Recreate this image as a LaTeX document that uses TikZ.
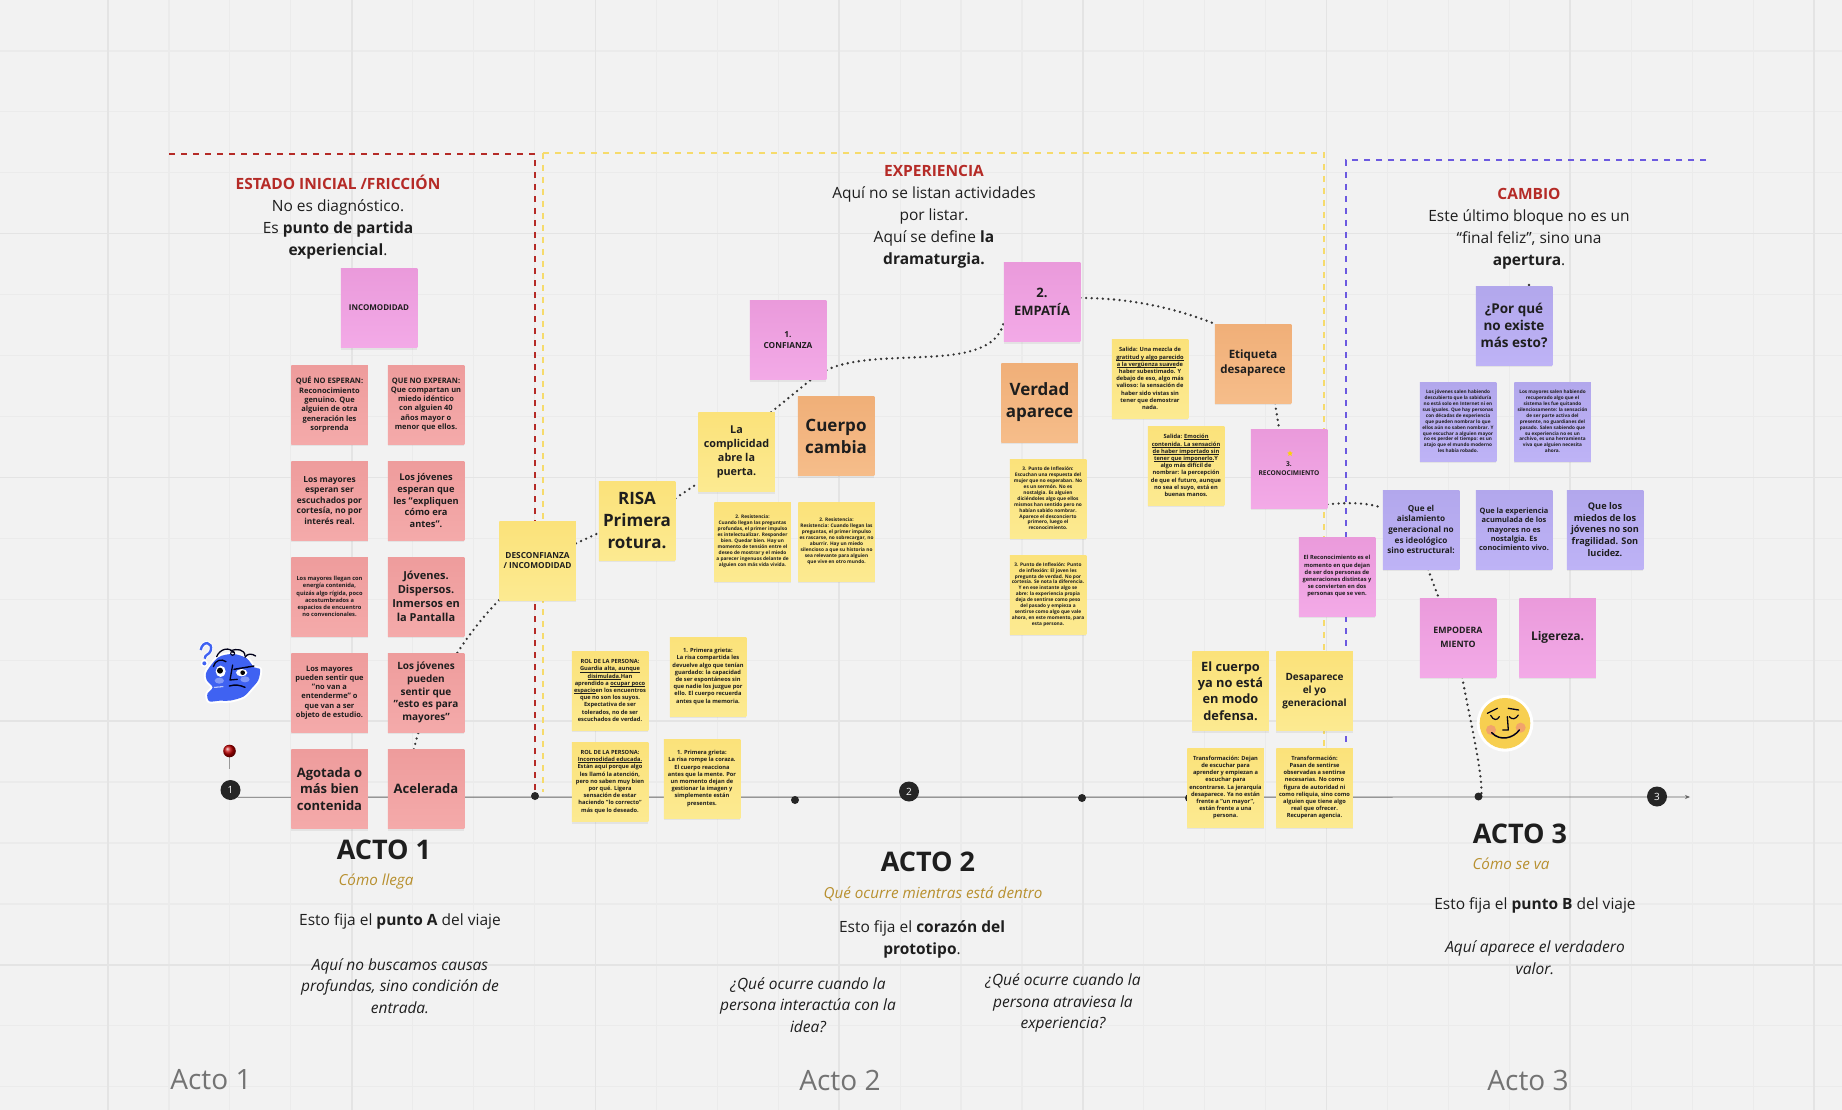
\documentclass[tikz,border=0pt]{standalone}
\usepackage{fontspec}
\setmainfont{Open Sans}
\usetikzlibrary{arrows.meta,backgrounds,shadows,shapes.geometric}
\definecolor{lienzo}{HTML}{F2F2F2}
\definecolor{rejilla}{HTML}{EBEBEB}
\definecolor{rejillab}{HTML}{E4E4E4}
\definecolor{tinta}{HTML}{1E1E1E}
\definecolor{rojo}{HTML}{B52B27}
\definecolor{oro}{HTML}{B8902F}
\definecolor{azul}{HTML}{3F62F2}
\definecolor{gualda}{HTML}{F6DB6C}
\definecolor{malva}{HTML}{6C5AE0}
\definecolor{cara}{HTML}{F7CF50}
\definecolor{mejilla}{HTML}{F2A36B}
\newcommand{\rayado}[1]{\setbox0=\hbox{#1}\rlap{\rule[-.9pt]{\wd0}{.25pt}}\box0}
\begin{document}
\begin{tikzpicture}[
  x=1pt, y=-1pt,
  sticky/.style={minimum width=76.5pt, minimum height=79pt, inner sep=0pt, align=center, text=tinta,
    drop shadow={opacity=.13, shadow xshift=0pt, shadow yshift=-2pt}},
  coral/.style={sticky, top color={rgb,255:red,238;green,156;blue,156}, bottom color={rgb,255:red,244;green,170;blue,170}},
  rosa/.style={sticky, top color={rgb,255:red,234;green,154;blue,219}, bottom color={rgb,255:red,243;green,170;blue,231}},
  ambar/.style={sticky, top color={rgb,255:red,251;green,226;blue,122}, bottom color={rgb,255:red,252;green,234;blue,145}},
  naranja/.style={sticky, top color={rgb,255:red,240;green,175;blue,120}, bottom color={rgb,255:red,246;green,189;blue,138}},
  lila/.style={sticky, top color={rgb,255:red,178;green,167;blue,236}, bottom color={rgb,255:red,190;green,179;blue,246}},
  fnt/.style 2 args={font=\fontsize{#1}{#2}\selectfont\bfseries},
  nota/.style={align=center, inner sep=0pt, text=tinta, font=\fontsize{15.5}{22}\selectfont},
  cursiva/.style={nota, font=\fontsize{15.5}{21.7}\selectfont\itshape},
  acto/.style={inner sep=0pt, text=tinta, font=\fontsize{27}{32}\selectfont\bfseries},
  sub/.style={inner sep=0pt, text=oro, font=\fontsize{15.2}{20}\selectfont\itshape},
  pie/.style={inner sep=0pt, text=black!55, font=\fontsize{28}{32}\selectfont},
  hito/.style={circle, fill=black!85, minimum size=20pt, inner sep=0pt, text=white, font=\fontsize{10}{10}\selectfont},
  punto/.style={circle, fill=black!85, minimum size=8pt, inner sep=0pt},
  lazo/.style={line width=2.6pt, black!80, dash pattern=on 0pt off 5.6pt, line cap=round},
  marco/.style={line width=1.2pt, dash pattern=on 6pt off 6pt}
]
  % Fondo y rejilla
  \useasboundingbox (0,0) rectangle (1842,1110);
  \begin{scope}[on background layer]
    \fill[lienzo] (0,0) rectangle (1842,1110);
    \foreach \i in {0,...,30} {
      \draw[rejilla, line width=1.2pt] (108+\i*60.93,0) -- (108+\i*60.93,1110);
    }
    \foreach \i in {0,...,18} {
      \draw[rejilla, line width=1.2pt] (0,-10+\i*60.93) -- (1842,-10+\i*60.93);
    }
    \foreach \i in {0,...,7} {
      \draw[rejillab, line width=1.6pt] (108+\i*243.7,0) -- (108+\i*243.7,1110);
    }
    \foreach \i in {0,...,4} {
      \draw[rejillab, line width=1.6pt] (0,-10+\i*243.7) -- (1842,-10+\i*243.7);
    }

    % Marcos de cada bloque
    \draw[marco, rojo] (169,154) -- (535,154) -- (535,796);
    \draw[marco, gualda] (543,153) -- (1324,153) -- (1324,825);
    \draw[marco, gualda] (543,153) -- (543,792);
    \draw[marco, malva] (1706,160) -- (1346,160) -- (1346,825);
  \end{scope}

  % Textos de los bloques
  \node[nota] (estado) at (338,217) {{\color{rojo}\bfseries ESTADO INICIAL /FRICCIÓN}\\No es diagnóstico.\\Es \textbf{punto de partida}\\\textbf{experiencial}.};
  \node[nota] (experiencia) at (934,216.5) {{\color{rojo}\bfseries EXPERIENCIA}\\Aquí no se listan actividades\\por listar.\\Aquí se define \textbf{la}\\\textbf{dramaturgia.}};
  \node[nota] (cambio) at (1529,229) {{\color{rojo}\bfseries CAMBIO}\\Este último bloque no es un\\“final feliz”, sino una\\\textbf{apertura}.};

  % Hitos de la linea
  \node[hito] (uno) at (230.5,790) {1};
  \node[hito] (dos) at (909,791.5) {2};
  \node[hito] (tres) at (1657,796.5) {3};
  \node[punto] (pa) at (535,796) {};
  \node[punto] (pb) at (795,800) {};
  \node[punto] (pc) at (1082,798) {};
  \node[punto] (pd) at (1189,798) {};
  \node[punto] (pe) at (1478.5,796.5) {};
  \coordinate (fin) at (1690,797);

  % Acto 1
  \node[rosa, fnt={8}{10}] (incomodidad) at (379,308) {INCOMODIDAD};
  \node[coral, fnt={7.5}{9.3}] (queno) at (329.5,404.5) {QUÉ NO ESPERAN:\\Reconocimiento\\genuino. Que\\alguien de otra\\generación les\\sorprenda};
  \node[coral, fnt={7.5}{9.3}] (quenob) at (426,404.5) {QUE NO EXPERAN:\\Que compartan un\\miedo idéntico\\con alguien 40\\años mayor o\\menor que ellos.};
  \node[coral, fnt={8.4}{10.5}] (mayores) at (329.5,500.5) {Los mayores\\esperan ser\\escuchados por\\cortesía, no por\\interés real.};
  \node[coral, fnt={9.3}{11.8}] (jovenes) at (426,500.5) {Los jóvenes\\esperan que\\les "expliquen\\cómo era\\antes".};
  \node[coral, fnt={5.7}{7.2}] (llegan) at (329.5,596.5) {Los mayores llegan con\\energía contenida,\\quizás algo rígida, poco\\acostumbrados a\\espacios de encuentro\\no convencionales.};
  \node[coral, fnt={11}{14}] (dispersos) at (426,596.5) {Jóvenes.\\Dispersos.\\Inmersos en\\la Pantalla};
  \node[coral, fnt={7.5}{9.3}] (sentir) at (329.5,692.5) {Los mayores\\pueden sentir que\\"no van a\\entenderme" o\\que van a ser\\objeto de estudio.};
  \node[coral, fnt={10}{12.7}] (sentirb) at (426,692.5) {Los jóvenes\\pueden\\sentir que\\"esto es para\\mayores"};
  \node[coral, fnt={13}{16.4}] (agotada) at (329.5,789) {Agotada o\\más bien\\contenida};
  \node[coral, fnt={13}{16.4}] (acelerada) at (426,789) {Acelerada};
  \node[acto] (actoa) at (384,850) {ACTO 1};
  \node[sub] (subactoa) at (376,881) {Cómo llega};
  \node[nota] (fijaa) at (400,921) {Esto fija el \textbf{punto A} del viaje};
  \node[cursiva] (causas) at (400,986) {Aquí no buscamos causas\\profundas, sino condición de\\entrada.};

  % Acto 2
  \node[ambar, fnt={8.3}{10.7}] (desconfianza) at (537.5,560.5) {DESCONFIANZA\\/ INCOMODIDAD};
  \node[ambar, fnt={17}{22}] (risa) at (637,520.5) {RISA\\Primera\\rotura.};
  \node[ambar, fnt={10.8}{14}] (complicidad) at (736.5,452) {La\\complicidad\\abre la\\puerta.};
  \node[naranja, fnt={17}{22}] (cuerpo) at (836,436) {Cuerpo\\cambia};
  \node[rosa, fnt={8.3}{11}] (confianza) at (788,340) {1.\\CONFIANZA};
  \node[rosa, fnt={13}{18}] (empatia) at (1042,302) {2.\\EMPATÍA};
  \node[naranja, fnt={17}{22}] (verdad) at (1039.5,402.5) {Verdad\\aparece};
  \node[naranja, fnt={11.5}{15}] (etiqueta) at (1253,363.5) {Etiqueta\\desaparece};
  \node[ambar, fnt={4.8}{6}] (resistencia) at (752.5,541.5) {2. Resistencia:\\Cuando llegan las preguntas\\profundas, el primer impulso\\es intelectualizar. Responder\\bien. Quedar bien. Hay un\\momento de tensión entre el\\deseo de mostrar y el miedo\\a parecer ingenuos delante de\\alguien con más vida vivida.};
  \node[ambar, fnt={4.8}{6}] (resistenciab) at (836.5,541.5) {2. Resistencia:\\Resistencia: Cuando llegan las\\preguntas, el primer impulso\\es rascarse, no sobrecargar, no\\aburrir. Hay un miedo\\silencioso a que su historia no\\sea relevante para alguien\\que vive en otro mundo.};
  \node[ambar, fnt={5.7}{7.2}] (rola) at (610,690.5) {ROL DE LA PERSONA:\\\rayado{Guardia alta, aunque}\\\rayado{disimulada.} Han\\aprendido a \rayado{ocupar poco}\\\rayado{espacio} en los encuentros\\que no son los suyos.\\Expectativa de ser\\tolerados, no de ser\\escuchados de verdad.};
  \node[ambar, fnt={5.7}{7.2}] (rolb) at (610,782) {ROL DE LA PERSONA:\\\rayado{Incomodidad educada.}\\Están aquí porque algo\\les llamó la atención,\\pero no saben muy bien\\por qué. Ligera\\sensación de estar\\haciendo "lo correcto"\\más que lo deseado.};
  \node[ambar, fnt={5.7}{7.2}] (grieta) at (708,676.5) {1. Primera grieta:\\La risa compartida les\\devuelve algo que tenían\\guardado: la capacidad\\de ser espontáneos sin\\que nadie los juzgue por\\ello. El cuerpo recuerda\\antes que la memoria.};
  \node[ambar, fnt={5.7}{7.2}] (grietab) at (702,778.5) {1. Primera grieta:\\La risa rompe la coraza.\\El cuerpo reacciona\\antes que la mente. Por\\un momento dejan de\\gestionar la imagen y\\simplemente están\\presentes.};
  \node[ambar, fnt={5.7}{7.2}] (salida) at (1150,378.5) {Salida: Una mezcla de\\\rayado{gratitud y algo parecido}\\\rayado{a la vergüenza suave} de\\haber subestimado. Y\\debajo de eso, algo más\\valioso: la sensación de\\haber sido vistas sin\\tener que demostrar\\nada.};
  \node[ambar, fnt={5.7}{7.2}] (salidab) at (1186,465.5) {Salida: \rayado{Emoción}\\\rayado{contenida. La sensación}\\\rayado{de haber importado sin}\\\rayado{tener que imponerlo.} Y\\algo más difícil de\\nombrar: la percepción\\de que el futuro, aunque\\no sea el suyo, está en\\buenas manos.};
  \node[ambar, fnt={4.8}{5.9}] (inflexion) at (1048,498.5) {3. Punto de Inflexión:\\Escuchan una respuesta del\\mujer que no esperaban. No\\es un sermón. No es\\nostalgia. Es alguien\\diciéndoles algo que ellos\\mismos han sentido pero no\\habían sabido nombrar.\\Aparece el desconcierto\\primero, luego el\\reconocimiento.};
  \node[ambar, fnt={4.8}{5.9}] (inflexionb) at (1048,594.5) {3. Punto de Inflexión: Punto\\de inflexión: El joven les\\pregunta de verdad. No por\\cortesía. Se nota la diferencia.\\Y en ese instante algo se\\abre: la experiencia propia\\deja de sentirse como peso\\del pasado y empieza a\\sentirse como algo que vale\\ahora, en este momento, para\\esta persona.};
  \node[rosa, fnt={6.6}{9}] (reconocimiento) at (1289,468.5) {3.\\RECONOCIMIENTO};
  \node[star, star points=5, star point ratio=2.2, fill=yellow!70!orange, minimum size=6pt, inner sep=0pt] (estrella) at (1290,453.5) {};
  \node[rosa, fnt={5.7}{7.2}] (elreco) at (1337,576.5) {El Reconocimiento es el\\momento en que dejan\\de ser dos personas de\\generaciones distintas y\\se convierten en dos\\personas que se ven.};
  \node[ambar, fnt={12.8}{16.3}] (defensa) at (1230.5,691) {El cuerpo\\ya no está\\en modo\\defensa.};
  \node[ambar, fnt={10}{12.7}] (yogen) at (1314.5,691) {Desaparece\\el yo\\generacional};
  \node[ambar, fnt={5.7}{7.2}] (transf) at (1225.5,787.5) {Transformación: Dejan\\de escuchar para\\aprender y empiezan a\\escuchar para\\encontrarse. La jerarquía\\desaparece. Ya no están\\frente a "un mayor",\\están frente a una\\persona.};
  \node[ambar, fnt={5.7}{7.2}] (transfb) at (1314.5,787.5) {Transformación:\\Pasan de sentirse\\observadas a sentirse\\necesarias. No como\\figura de autoridad ni\\como reliquia, sino como\\alguien que tiene algo\\real que ofrecer.\\Recuperan agencia.};
  \node[acto] (actob) at (928,862) {ACTO 2};
  \node[sub] (subactob) at (933,894) {Qué ocurre mientras está dentro};
  \node[nota] (fijab) at (922,939.5) {Esto fija el \textbf{corazón del}\\\textbf{prototipo}.};
  \node[cursiva] (preguntaa) at (808,1005) {¿Qué ocurre cuando la\\persona interactúa con la\\idea?};
  \node[cursiva] (preguntab) at (1063,1003) {¿Qué ocurre cuando la\\persona atraviesa la\\experiencia?};

  % Acto 3
  \node[lila, fnt={13.5}{17.3}] (porque) at (1514,325.5) {¿Por qué\\no existe\\más esto?};
  \node[lila, fnt={4.7}{5.9}] (salenj) at (1458,421.5) {Los jóvenes salen habiendo\\descubierto que la sabiduría\\no está solo en Internet ni en\\sus iguales. Que hay personas\\con décadas de experiencia\\que pueden nombrar lo que\\ellos aún no saben nombrar. Y\\que escuchar a alguien mayor\\no es perder el tiempo: es un\\atajo que el mundo moderno\\les había robado.};
  \node[lila, fnt={4.7}{5.9}] (salenm) at (1552.5,421.5) {Los mayores salen habiendo\\recuperado algo que el\\sistema les fue quitando\\silenciosamente: la sensación\\de ser parte activa del\\presente, no guardianes del\\pasado. Salen sabiendo que\\su experiencia no es un\\archivo, es una herramienta\\viva que alguien necesita\\ahora.};
  \node[lila, fnt={8.2}{10.6}] (aislamiento) at (1421,529.5) {Que el\\aislamiento\\generacional no\\es ideológico\\sino estructural:};
  \node[lila, fnt={7.4}{9.3}] (acumulada) at (1514,529.5) {Que la experiencia\\acumulada de los\\mayores no es\\nostalgia. Es\\conocimiento vivo.};
  \node[lila, fnt={9.2}{11.8}] (miedos) at (1605,529.5) {Que los\\miedos de los\\jóvenes no son\\fragilidad. Son\\lucidez.};
  \node[rosa, fnt={8.8}{14}] (empodera) at (1458,637.5) {EMPODERA\\MIENTO};
  \node[rosa, fnt={12}{15}] (ligereza) at (1557.5,637.5) {Ligereza.};
  \node[acto] (actoc) at (1520,834) {ACTO 3};
  \node[sub] (subactoc) at (1511,864) {Cómo se va};
  \node[nota] (fijac) at (1535,905) {Esto fija el \textbf{punto B} del viaje};
  \node[cursiva] (valor) at (1535,958) {Aquí aparece el verdadero\\valor.};

  % Titulos de abajo
  \node[pie] (piea) at (211,1080) {Acto 1};
  \node[pie] (pieb) at (840,1080) {Acto 2};
  \node[pie] (piec) at (1528,1080) {Acto 3};

  % Linea y lazos por debajo de las notas
  \begin{scope}[on background layer]
    \draw[black!60, line width=.9pt, -{Stealth[length=5pt,width=4pt]}] (uno.south east) -- (fin);
    \draw[lazo] (acelerada.107) .. controls (425,700) and (460,640) .. (desconfianza.south west);
    \draw[lazo] (desconfianza.24) -- (risa.198);
    \draw[lazo] (risa.30) -- (complicidad.219);
    \draw[lazo] (complicidad.49) -- (confianza.300);
    \draw[lazo] (confianza.-38) .. controls (880,345) and (990,375) .. (empatia.209);
    \draw[lazo] (empatia.6) .. controls (1130,298) and (1175,308) .. (etiqueta.north west);
    \draw[lazo] (etiqueta.299) -- (reconocimiento.104);
    \draw[lazo] (reconocimiento.-43) .. controls (1350,502) and (1370,503) .. (aislamiento.151);
    \draw[lazo] (aislamiento.280) -- (empodera.116);
    \draw[lazo] (empodera.276) .. controls (1470,720) and (1482,770) .. (pe.north east);
    \fill[black!80] (1529,285) circle (1.3);
  \end{scope}

  % Chincheta
  \draw[black!40, line width=1.6pt] (229.5,755) -- (229.5,769);
  \shade[ball color=red!75!black] (229.5,751) circle (6.3);

  % Cara azul
  \begin{scope}[shift={(190,630)}, x=.3333pt, y=-.3333pt]
    \draw[white, line width=4pt, line join=round] (32,60) .. controls (38,30) and (70,35) .. (62,62) .. controls (58,75) and (45,72) .. (44,86);
    \fill[white] (43,100) circle (11);
    \draw[azul, line width=2.4pt] (32,60) .. controls (38,30) and (70,35) .. (62,62) .. controls (58,75) and (45,72) .. (44,86);
    \fill[azul] (43,100) circle (6);
    \filldraw[white, line width=4pt, line join=round] plot[smooth cycle] coordinates {(50,125) (85,82) (130,72) (170,85) (192,112) (210,118) (205,150) (185,175) (160,200) (120,212) (90,212) (58,214) (52,192) (68,172) (50,150)};
    \fill[azul] plot[smooth cycle] coordinates {(50,125) (85,82) (130,72) (170,85) (192,112) (210,118) (205,150) (185,175) (160,200) (120,212) (90,212) (58,214) (52,192) (68,172) (50,150)};
    \fill[azul!65!white] (88,152) ellipse (14 and 9);
    \fill[azul!65!white] (165,148) ellipse (14 and 9);
    \draw[white, line width=.8pt] (72,172) -- (100,170);
    \fill[white] (92,124) ellipse (15 and 17);
    \fill[black] (90,122) circle (9);
    \fill[white] (155,128) ellipse (17 and 11);
    \fill[black] (158,128) circle (7);
    \draw[black!90!blue, line width=1.3pt, line cap=round] (70,110) .. controls (75,90) and (95,85) .. (108,95);
    \draw[black!90!blue, line width=1.4pt, line cap=round] (132,118) -- (192,108);
    \draw[black!90!blue, line width=1.3pt, line join=round, line cap=round] (128,105) -- (120,150) -- (142,148);
    \draw[black!90!blue, line width=1.4pt, line cap=round] (118,168) .. controls (135,163) and (150,165) .. (165,172);
    \draw[black!90!blue, line width=1.3pt, line cap=round] (80,80) .. controls (90,55) and (120,50) .. (130,68);
    \draw[black!90!blue, line width=1.3pt, line cap=round] (122,62) .. controls (140,55) and (165,58) .. (165,78);
    \draw[black!90!blue, line width=1.3pt, line cap=round] (165,82) .. controls (172,70) and (185,70) .. (197,78);
    \draw[black!90!blue, line width=1pt] (128,70) circle (6);
  \end{scope}

  % Cara amarilla
  \begin{scope}[shift={(1380,560)}, x=.3333pt, y=-.3333pt]
    \fill[white] (375,490) ellipse (85 and 85);
    \fill[cara] (375,490) ellipse (76 and 76);
    \fill[mejilla] (333,510) circle (15);
    \fill[mejilla] (422,503) circle (15);
    \draw[black!90!blue, line width=1.3pt, line cap=round] (322,460) -- (352,445);
    \draw[black!90!blue, line width=1.3pt, line cap=round] (385,445) -- (416,450);
    \draw[black!90!blue, line width=1.2pt, line cap=round] (332,466) .. controls (340,482) and (352,482) .. (358,470);
    \draw[black!90!blue, line width=1.2pt, line cap=round] (388,470) .. controls (395,480) and (408,478) .. (415,465);
    \draw[black!90!blue, line width=1.3pt, line join=round, line cap=round] (382,470) -- (385,510) -- (368,510);
    \draw[black!90!blue, line width=1.5pt, line cap=round] (335,518) .. controls (360,545) and (400,535) .. (418,510);
  \end{scope}
\end{tikzpicture}
\end{document}
